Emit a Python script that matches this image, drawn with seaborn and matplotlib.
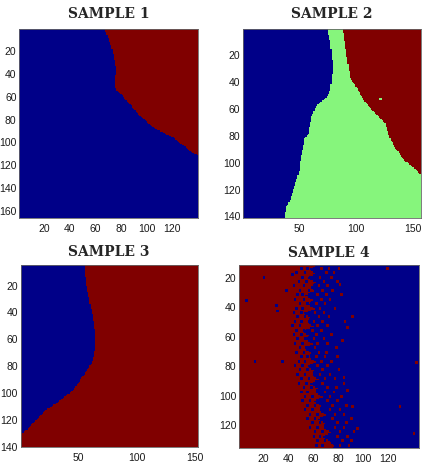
import numpy as np
import matplotlib
matplotlib.use('Agg')
import matplotlib.pyplot as plt
from matplotlib.colors import ListedColormap
from matplotlib.path import Path
import seaborn as sns

# class colours (jet with 3 levels): 0 = blue, 1 = green, 2 = red
class_colors = ['#000088', '#86F57C', '#800000']

# ---- sample 1: 140 x 166, red region right of the boundary
s1_width, s1_rows = 140, (1, 166)
s1_bound_y = [0, 18, 35, 45, 53, 59, 68, 77, 84, 89, 92, 96, 103, 109, 112]
s1_bound_x = [67, 73, 76.5, 75.5, 76, 81, 88, 95, 102, 108, 114, 121, 129, 135, 141]

# ---- sample 2: 157 x 141, blue | green | red
s2_width, s2_rows = 157, (1, 141)
s2_left_y = [0, 8.5, 18.5, 28.5, 38.5, 46, 50, 54, 57, 64, 71, 78.5, 81, 88.5,
             98.5, 106, 113.5, 121, 128.5, 133.5, 142]
s2_left_x = [75, 77, 78.5, 79.5, 78.5, 77, 75.5, 70, 65.5, 61.5, 59.5, 58, 55,
             53.5, 51, 50, 47.5, 44.5, 41.5, 38.5, 37]
s2_right_y = [0, 24.5, 37, 42, 49.5, 57, 64.5, 71, 78.5, 88.5, 98.5, 103.5, 108.5, 111]
s2_right_x = [88.5, 92.5, 95, 99, 104, 110, 118.5, 126, 128.5, 134, 143, 150.5, 156.5, 159]
s2_specks_x = [121]
s2_specks_y = [52]

# ---- sample 3: 152 x rows 5..140, blue region left of the boundary
s3_width, s3_rows = 152, (5, 140)
s3_bound_y = [4, 18.8, 31, 43.5, 56, 66, 75.5, 80.5, 85.5, 90.5, 98, 102.5,
              107.5, 112.5, 120, 127.5, 131.5]
s3_bound_x = [55, 56.5, 59.5, 62.5, 64.5, 64.5, 62.5, 59.5, 55.5, 51.5, 45.5,
              38.5, 31.5, 22.5, 14, 5.5, -1]

# ---- sample 4: 144 x rows 12..135, red left of a ragged boundary, blue right
s4_width, s4_rows = 144, (12, 135)
s4_bound_y = [11, 14, 17, 20, 23, 26, 29, 32, 35, 38, 41, 44, 47, 50, 53, 56, 59,
              62, 65, 68, 71, 74, 77, 80, 83, 86, 89, 92, 95, 98, 101, 104, 107,
              110, 113, 116, 119, 122, 125, 128, 131, 134, 136]
s4_bound_x = [63, 57, 61, 55, 62, 58, 60, 53, 59, 56, 61, 52, 57, 55, 60, 51, 56,
              54, 59, 53, 58, 57, 62, 55, 60, 59, 64, 57, 63, 62, 67, 60, 66,
              65, 70, 63, 69, 68, 74, 67, 73, 76, 75]
# blue speckles inside the red side
s4_blue_x = [50, 55, 46, 53, 51, 57, 48, 54, 44, 52, 49, 56, 47, 51, 52, 45, 49,
             55, 46, 51, 50, 44, 47, 53, 45, 50, 49, 43, 46, 52, 50, 44, 47, 53,
             45, 51, 49, 54, 46, 52, 50, 55, 48, 53, 51, 45, 49, 55, 53, 47, 50,
             56, 54, 48, 52, 58, 55, 50, 53, 59, 57, 51, 55, 61, 59, 53, 57, 63,
             61, 55, 59, 65, 63, 57, 61, 67, 65, 60, 63, 69, 67, 62,
             6, 13, 20, 30, 35, 38, 43, 31]
s4_blue_y = [13, 13, 16, 16, 19, 19, 22, 22, 25, 25, 28, 28, 31, 31, 34, 34, 37,
             37, 40, 40, 43, 43, 46, 46, 49, 49, 52, 52, 55, 55, 58, 58, 61, 61,
             64, 64, 67, 67, 70, 70, 73, 73, 76, 76, 79, 79, 82, 82, 85, 85, 88,
             88, 91, 91, 94, 94, 97, 97, 100, 100, 103, 103, 106, 106, 109, 109,
             112, 112, 115, 115, 118, 118, 121, 121, 124, 124, 127, 127, 130, 130,
             133, 133,
             35, 76, 19, 38, 76, 28, 17, 42]
# red speckles inside the blue side
s4_red_x = [66, 72, 80, 70, 76, 65, 74, 68, 79, 64, 71, 67, 75, 63, 70, 82, 66,
            73, 62, 69, 65, 77, 61, 68, 64, 72, 60, 67, 85, 63, 71, 59, 66, 62,
            74, 60, 68, 63, 71, 61, 78, 64, 70, 62, 69, 66, 74, 63, 71, 67, 80,
            65, 73, 69, 77, 67, 84, 71, 78, 69, 76, 73, 82, 71, 79, 75, 86, 73,
            81, 77, 84, 75, 90, 79, 86, 77, 84, 81, 92, 79, 87, 83, 90, 81, 88,
            87, 79, 84, 87, 119, 129, 140, 142, 95, 91, 83, 81, 91, 80]
s4_red_y = [13, 13, 13, 16, 16, 19, 19, 22, 22, 25, 25, 28, 28, 31, 31, 31, 34,
            34, 37, 37, 40, 40, 43, 43, 46, 46, 49, 49, 49, 52, 52, 55, 55, 58,
            58, 61, 61, 64, 64, 67, 67, 70, 70, 73, 73, 76, 76, 79, 79, 82, 82,
            85, 85, 88, 88, 91, 91, 94, 94, 97, 97, 100, 100, 103, 103, 106, 106,
            109, 109, 112, 112, 115, 115, 118, 118, 121, 121, 124, 124, 127, 127,
            130, 130, 133, 133,
            53, 73, 87, 96, 13, 107, 125, 77, 122, 107, 62, 24, 46, 13]


def right_of(bx, by, width):
    return list(zip(bx, by)) + [(width + 3, by[-1]), (width + 3, by[0])]


def left_of(bx, by):
    return list(zip(bx, by)) + [(-2, by[-1]), (-2, by[0])]


def label_image(width, rows, base, regions, specks=()):
    xs = np.arange(1, width + 1)
    ys = np.arange(rows[0], rows[1] + 1)
    gx, gy = np.meshgrid(xs, ys)
    centres = np.column_stack([gx.ravel(), gy.ravel()])
    grid = np.full(gx.shape, base, dtype=float)
    for value, verts in regions:
        inside = Path(verts).contains_points(centres).reshape(gx.shape)
        grid[inside] = value
    for value, px, py in specks:
        for x, y in zip(px, py):
            r = y - rows[0]
            grid[max(r, 0):r + 2, x - 1:x + 1] = value
    return grid


panels = [
    dict(title='SAMPLE 1', width=s1_width, rows=s1_rows,
         grid=label_image(s1_width, s1_rows, 0,
                          [(2, right_of(s1_bound_x, s1_bound_y, s1_width))]),
         xticks=[20, 40, 60, 80, 100, 120], yticks=[20, 40, 60, 80, 100, 120, 140, 160],
         rect=[0.0453, 0.5332, 0.4202, 0.4041], pad=8),
    dict(title='SAMPLE 2', width=s2_width, rows=s2_rows,
         grid=label_image(s2_width, s2_rows, 0,
                          [(1, right_of(s2_left_x, s2_left_y, s2_width)),
                           (2, right_of(s2_right_x, s2_right_y, s2_width))],
                          [(1, s2_specks_x, s2_specks_y)]),
         xticks=[50, 100, 150], yticks=[20, 40, 60, 80, 100, 120, 140],
         rect=[0.5704, 0.5325, 0.4185, 0.4047], pad=8),
    dict(title='SAMPLE 3', width=s3_width, rows=s3_rows,
         grid=label_image(s3_width, s3_rows, 2,
                          [(0, left_of(s3_bound_x, s3_bound_y))]),
         xticks=[50, 100, 150], yticks=[20, 40, 60, 80, 100, 120, 140],
         rect=[0.0486, 0.0422, 0.4155, 0.3910], pad=6),
    dict(title='SAMPLE 4', width=s4_width, rows=s4_rows,
         grid=label_image(s4_width, s4_rows, 0,
                          [(2, left_of(s4_bound_x, s4_bound_y))],
                          [(0, s4_blue_x, s4_blue_y), (2, s4_red_x, s4_red_y)]),
         xticks=[20, 40, 60, 80, 100, 120], yticks=[20, 40, 60, 80, 100, 120],
         rect=[0.5610, 0.0407, 0.4225, 0.3912], pad=6),
]

sns.set_style('white')
plt.rcParams['font.family'] = ['Liberation Sans', 'DejaVu Sans']

fig = plt.figure(figsize=(4.26, 4.67), dpi=100)
cmap = ListedColormap(class_colors)

for p in panels:
    ax = fig.add_axes(p['rect'])
    sns.heatmap(p['grid'], ax=ax, cmap=cmap, vmin=-0.5, vmax=2.5, cbar=False,
                xticklabels=False, yticklabels=False)
    ax.set_xticks([v - 0.5 for v in p['xticks']])
    ax.set_xticklabels([str(v) for v in p['xticks']])
    ax.set_yticks([v - p['rows'][0] + 0.5 for v in p['yticks']])
    ax.set_yticklabels([str(v) for v in p['yticks']], rotation=0)
    ax.tick_params(axis='both', length=2, width=0.5, direction='in',
                   labelsize=7.5, labelcolor='#1a1a1a')
    ax.tick_params(axis='x', pad=4)
    ax.tick_params(axis='y', pad=2)
    for sp in ax.spines.values():
        sp.set_visible(True)
        sp.set_color('#666666')
        sp.set_linewidth(0.6)
    ax.set_title(p['title'], fontfamily='DejaVu Serif', fontweight='bold',
                 fontsize=10, pad=p['pad'])

fig.savefig('out.png', dpi=100)
